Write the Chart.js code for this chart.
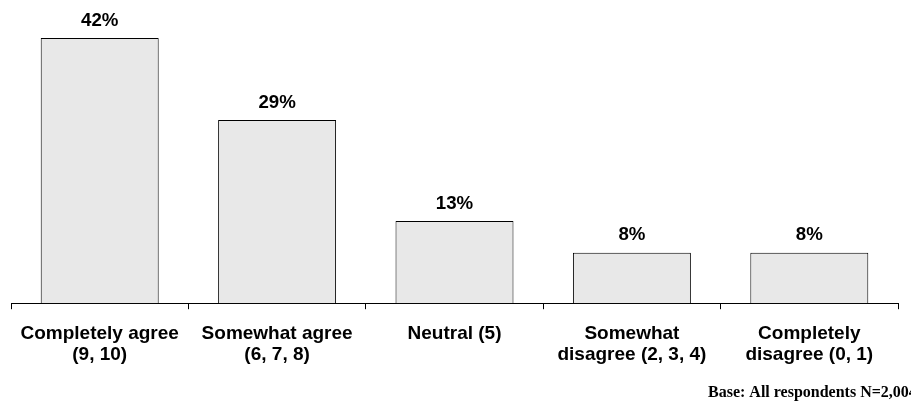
<!DOCTYPE html>
<html>
<head>
<meta charset="utf-8">
<script src="https://cdn.jsdelivr.net/npm/chart.js@4"></script>
<style>
  html, body { margin: 0; padding: 0; background: #fff; }
  #wrap { width: 911px; height: 404px; position: relative; }
</style>
</head>
<body>
<div id="wrap"><canvas id="myChart" width="911" height="404"></canvas></div>
<script>
const categories = [
  ['Completely agree', '(9, 10)'],
  ['Somewhat agree', '(6, 7, 8)'],
  ['Neutral (5)'],
  ['Somewhat', 'disagree (2, 3, 4)'],
  ['Completely', 'disagree (0, 1)']
];
const values = [42, 29, 13, 8, 8];
const footnote = 'Base: All respondents N=2,004';

// draws the % labels above each bar and the base note
const labelPlugin = {
  id: 'labels',
  afterDatasetsDraw(chart) {
    const ctx = chart.ctx;
    const meta = chart.getDatasetMeta(0);
    ctx.save();
    ctx.fillStyle = '#000';
    ctx.font = 'bold 18.7px "Liberation Sans", Arial, sans-serif';
    ctx.textAlign = 'center';
    ctx.textBaseline = 'middle';
    meta.data.forEach((bar, i) => {
      ctx.fillText(values[i] + '%', bar.x, bar.y - 17.5);
    });
    ctx.font = 'bold 16px "Liberation Serif", "Times New Roman", serif';
    ctx.textAlign = 'left';
    ctx.fillText(footnote, 708, 393);
    ctx.restore();
  }
};

const ctx = document.getElementById('myChart').getContext('2d');
const myChart = new Chart(ctx, {
  type: 'bar',
  data: {
    labels: categories,
    datasets: [{
      data: values,
      backgroundColor: '#e8e8e8',
      borderColor: '#000',
      borderWidth: 1,
      categoryPercentage: 1,
      barPercentage: 0.665
    }]
  },
  options: {
    responsive: false,
    animation: false,
    layout: { padding: { left: 11, right: 13, top: 0, bottom: 25 } },
    plugins: { legend: { display: false }, tooltip: { enabled: false } },
    scales: {
      x: {
        border: { color: '#000', width: 1 },
        grid: { drawOnChartArea: false, drawTicks: true, tickLength: 6, color: '#000', offset: true },
        ticks: {
          color: '#000',
          maxRotation: 0,
          autoSkip: false,
          padding: 14,
          font: { family: '"Liberation Sans", Arial, sans-serif', size: 19, weight: 'bold', lineHeight: 1.1 }
        }
      },
      y: {
        display: false,
        min: 0,
        max: 48
      }
    }
  },
  plugins: [labelPlugin]
});
</script>
</body>
</html>
